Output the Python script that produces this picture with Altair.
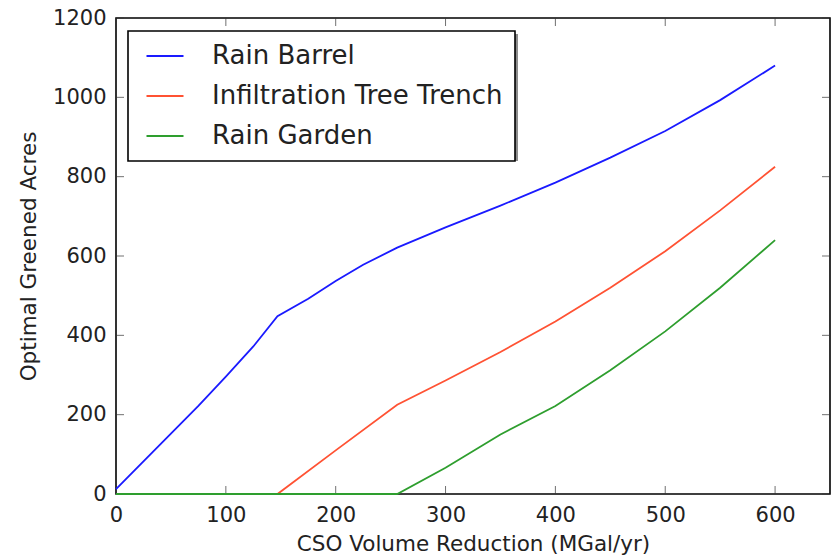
import altair as alt
import pandas as pd

# ---- data ----
barrel_x = [0, 25, 50, 75, 100, 125, 147, 175, 200, 225, 256, 300, 350, 400, 450, 500, 550, 600]
barrel_y = [12, 82, 152, 222, 296, 372, 448, 492, 537, 578, 621, 672, 727, 785, 848, 915, 993, 1080]

trench_x = [0, 147, 200, 256, 300, 350, 400, 450, 500, 550, 600]
trench_y = [0, 0, 110, 225, 286, 358, 435, 520, 612, 715, 825]

garden_x = [0, 256, 300, 350, 400, 450, 500, 550, 600]
garden_y = [0, 0, 66, 150, 222, 312, 410, 520, 640]

series = ["Rain Barrel", "Infiltration Tree Trench", "Rain Garden"]
colors = ["#1a1aff", "#ff5233", "#2e9e2e"]
x_ticks = [0, 100, 200, 300, 400, 500, 600]
y_ticks = [0, 200, 400, 600, 800, 1000, 1200]
x_min, x_max = 0, 650
y_min, y_max = 0, 1200

rows = []
for name, xs, ys in [(series[0], barrel_x, barrel_y),
                     (series[1], trench_x, trench_y),
                     (series[2], garden_x, garden_y)]:
    for i, (a, b) in enumerate(zip(xs, ys)):
        rows.append({"series": name, "x": a, "y": b, "order": i})
df = pd.DataFrame(rows)
xt_df = pd.DataFrame({"x": x_ticks, "lo": y_min, "hi": y_max})
yt_df = pd.DataFrame({"y": y_ticks, "lo": x_min, "hi": x_max})

W, H = 714, 476
FONT = "DejaVu Sans"
TICK_LEN = 8
TICK_COLOR = "#333333"

xscale = alt.Scale(domain=[x_min, x_max], nice=False, zero=False)
yscale = alt.Scale(domain=[y_min, y_max], nice=False, zero=False)

X_AXIS = alt.Axis(orient="bottom", values=x_ticks, format="d",
                  ticks=False, domain=False, grid=False,
                  labelPadding=10, labelFlush=False,
                  labelFontSize=21, title="CSO Volume Reduction (MGal/yr)",
                  titleFontSize=21.5, titleFontWeight="normal", titlePadding=8,
                  labelColor="#222", titleColor="#222")
Y_AXIS = alt.Axis(orient="left", values=y_ticks, format="d",
                  ticks=False, domain=False, grid=False,
                  labelPadding=10, labelFlush=False,
                  labelFontSize=21, title="Optimal Greened Acres",
                  titleFontSize=21.5, titleFontWeight="normal", titlePadding=12,
                  labelColor="#222", titleColor="#222")

lines = alt.Chart(df).mark_line(strokeWidth=1.8).encode(
    x=alt.X("x:Q", scale=xscale, axis=X_AXIS),
    y=alt.Y("y:Q", scale=yscale, axis=Y_AXIS),
    color=alt.Color("series:N", sort=series,
                    scale=alt.Scale(domain=series, range=colors),
                    legend=alt.Legend(title=None, orient="none", legendX=12, legendY=13,
                                      symbolType="M-4.625,0H4.625", symbolSize=64,
                                      symbolStrokeWidth=2, symbolOffset=12,
                                      labelFontSize=26, labelLimit=0,
                                      labelOffset=34, padding=12, rowPadding=14,
                                      fillColor="white", strokeColor="black",
                                      labelColor="#222")),
    order=alt.Order("order:Q"),
    detail="series:N",
)

# inward tick marks on all four sides, placed through the scales
xtick_kw = dict(orient="vertical", size=TICK_LEN, thickness=1, color=TICK_COLOR)
ytick_kw = dict(orient="horizontal", size=TICK_LEN, thickness=1, color=TICK_COLOR)

ticks_bottom = alt.Chart(xt_df).mark_tick(yOffset=-TICK_LEN / 2, **xtick_kw).encode(
    x=alt.X("x:Q", scale=xscale, axis=X_AXIS), y=alt.Y("lo:Q", scale=yscale, axis=Y_AXIS))
ticks_top = alt.Chart(xt_df).mark_tick(yOffset=TICK_LEN / 2, **xtick_kw).encode(
    x=alt.X("x:Q", scale=xscale, axis=X_AXIS), y=alt.Y("hi:Q", scale=yscale, axis=Y_AXIS))
ticks_left = alt.Chart(yt_df).mark_tick(xOffset=TICK_LEN / 2, **ytick_kw).encode(
    y=alt.Y("y:Q", scale=yscale, axis=Y_AXIS), x=alt.X("lo:Q", scale=xscale, axis=X_AXIS))
ticks_right = alt.Chart(yt_df).mark_tick(xOffset=-TICK_LEN / 2, **ytick_kw).encode(
    y=alt.Y("y:Q", scale=yscale, axis=Y_AXIS), x=alt.X("hi:Q", scale=xscale, axis=X_AXIS))

shadow = alt.Chart(alt.Data(values=[{}])).mark_rect(color="#8c8c8c").encode(
    x=alt.value(15), x2=alt.value(402), y=alt.value(16), y2=alt.value(143)
)

chart = alt.layer(shadow, ticks_bottom, ticks_top, ticks_left, ticks_right, lines).properties(
    width=W, height=H,
    autosize=alt.AutoSizeParams(type="none"),
    padding={"left": 116, "top": 18, "right": 5, "bottom": 62},
).configure(
    font=FONT,
).configure_view(
    stroke="black", strokeWidth=1.6
).configure_legend(
    strokeWidth=1.6
)

chart.save("out.html", embed_options={"renderer": "svg", "actions": False})
